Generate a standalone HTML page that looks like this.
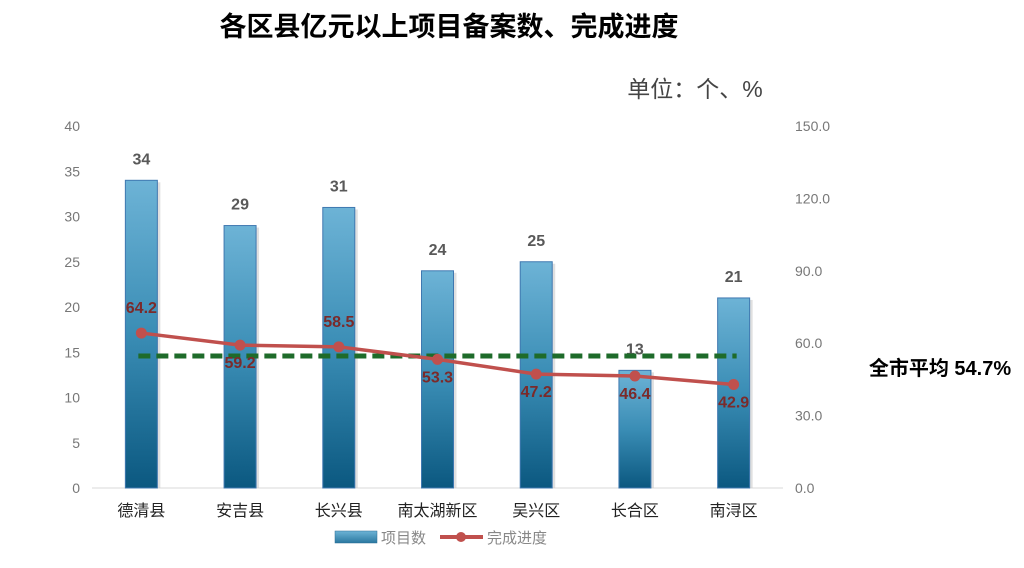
<!DOCTYPE html>
<html><head><meta charset="utf-8">
<style>
body{margin:0;width:1024px;height:563px;background:#fff;overflow:hidden;font-family:"Liberation Sans","Noto Sans CJK SC",sans-serif;}
svg text{font-family:"Liberation Sans","Noto Sans CJK SC",sans-serif;}
</style></head>
<body>
<svg id="chart" width="1024" height="563">
<defs>
<linearGradient id="bg" x1="0" y1="0" x2="0" y2="1">
<stop offset="0" stop-color="#6db3d6"/><stop offset="0.5" stop-color="#3a8db5"/><stop offset="1" stop-color="#0b5880"/>
</linearGradient>
<linearGradient id="lg" x1="0" y1="0" x2="0" y2="1">
<stop offset="0" stop-color="#6db3d6"/><stop offset="1" stop-color="#2a78a0"/>
</linearGradient>
</defs>
<text x="449" y="36" text-anchor="middle" font-size="27" font-weight="bold" fill="#000">各区县亿元以上项目备案数、完成进度</text>
<text x="695" y="97" text-anchor="middle" font-size="23" fill="#444">单位：个、%</text>
<text x="940" y="375" text-anchor="middle" font-size="20" font-weight="bold" fill="#000">全市平均 54.7%</text>
<g id="plot"></g>
<g>
<rect x="335" y="531" width="42" height="12" fill="url(#lg)" stroke="#2a6d93" stroke-width="0.5"/>
<text x="381" y="543" font-size="15" fill="#888">项目数</text>
<line x1="440" y1="537" x2="483" y2="537" stroke="#c0504d" stroke-width="4"/>
<circle cx="461" cy="537" r="5" fill="#c0504d"/>
<text x="487" y="543" font-size="15" fill="#888">完成进度</text>
</g>
</svg>
<script>
const categories=["德清县","安吉县","长兴县","南太湖新区","吴兴区","长合区","南浔区"];
const projectCounts=[34,29,31,24,25,13,21];
const progress=[64.2,59.2,58.5,53.3,47.2,46.4,42.9];
const average=54.7;
const leftTicks=[0,5,10,15,20,25,30,35,40];
const rightTicks=[0,30,60,90,120,150];
const NS="http://www.w3.org/2000/svg";
const plotG=document.getElementById('plot');
const plotTop=126,plotBottom=488,plotX0=92,plotX1=783;
const yL=v=>plotBottom-v/40*(plotBottom-plotTop);
const yR=v=>plotBottom-v/150*(plotBottom-plotTop);
const step=(plotX1-plotX0)/categories.length;
const xC=i=>plotX0+step*(i+0.5);
function mk(t,a){const e=document.createElementNS(NS,t);for(const k in a)e.setAttribute(k,a[k]);plotG.appendChild(e);return e;}
const ax=mk('line',{x1:plotX0,x2:plotX1,y1:plotBottom,y2:plotBottom,stroke:'#d9d9d9'});


leftTicks.forEach(v=>{const t=mk('text',{x:80,y:yL(v)+5,'text-anchor':'end','font-size':14,fill:'#777'});t.textContent=v;

});
rightTicks.forEach(v=>{const t=mk('text',{x:795,y:yR(v)+5,'font-size':14,fill:'#777'});t.textContent=v.toFixed(1);

});
categories.forEach((c,i)=>{
 const bw=32,x=xC(i)-bw/2,y=yL(projectCounts[i]);
 const s=mk('rect',{x:x+3,y:y+2,width:bw,height:plotBottom-y-2,fill:'#ccc',opacity:0.6});
 
 
 const r=mk('rect',{x:x,y:y,width:bw,height:plotBottom-y,fill:'url(#bg)',stroke:'#3f78b0','stroke-width':1});
 
 
 const t=mk('text',{x:xC(i),y:y-16,'text-anchor':'middle','font-size':16,'font-weight':'bold',fill:'#595959'});t.textContent=projectCounts[i];
 
 
 const l=mk('text',{x:xC(i),y:516,'text-anchor':'middle','font-size':16,fill:'#222'});l.textContent=c;
 
 
});
const av=mk('line',{x1:xC(0)-3,x2:xC(6)+3,y1:yR(average),y2:yR(average),stroke:'#1e6b2a','stroke-width':5,'stroke-dasharray':'12,6'});


const pl=mk('polyline',{points:progress.map((v,i)=>xC(i)+','+yR(v)).join(' '),fill:'none',stroke:'#c0504d','stroke-width':3.5});


const above=[true,false,true,false,false,false,false];
progress.forEach((v,i)=>{
 const c=mk('circle',{cx:xC(i),cy:yR(v),r:5.5,fill:'#c0504d'});
 
 
 const t=mk('text',{x:xC(i),y:above[i]?yR(v)-20:yR(v)+23,'text-anchor':'middle','font-size':16,'font-weight':'bold',fill:'#7b2a2a'});t.textContent=v.toFixed(1);
 
 
});
</script>
</body></html>
